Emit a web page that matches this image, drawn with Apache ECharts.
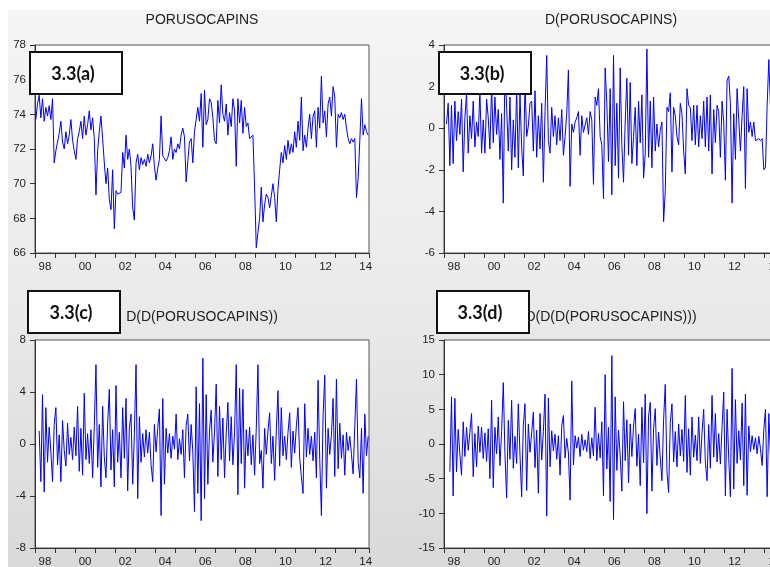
<!DOCTYPE html>
<html><head><meta charset="utf-8">
<script src="https://cdn.jsdelivr.net/npm/echarts@6/dist/echarts.min.js"></script>
<style>html,body{margin:0;padding:0;background:#fff;}#c{width:770px;height:567px;}</style>
</head><body><div id="c"></div>
<script>
// x-axis year labels (every two years), monthly data 1998M01..2014M08
const yearLabels = ['98','00','02','04','06','08','10','12','14'];
const titles = ['PORUSOCAPINS','D(PORUSOCAPINS)','D(D(PORUSOCAPINS))','D(D(D(PORUSOCAPINS)))'];
const boxLabels = ['3.3(a)','3.3(b)','3.3(c)','3.3(d)'];
const yMin = [66, -6, -8, -15];
const yMax = [78, 4, 8, 15];
const yStep = [2, 2, 4, 5];

// PORUSOCAPINS level, from 1998M01
const level = [
73.7,74.6,75.1,73.8,74.9,73.6,74.4,73.9,74.5,73.7,74.9,71.2,
71.9,72.0,72.9,73.6,72.4,72.0,73.0,72.3,72.8,73.7,72.5,71.9,
71.4,72.6,73.0,73.6,72.6,73.9,72.8,73.4,74.2,73.1,73.8,72.6,
69.35,71.9,73.0,73.9,72.6,71.2,70.0,70.9,69.1,68.5,70.8,67.4,
69.6,69.4,69.3,69.5,71.8,70.9,72.8,71.4,72.0,71.0,68.6,67.9,
71.2,71.7,70.8,71.5,71.1,71.4,71.0,71.7,71.2,71.6,72.3,71.0,
70.2,70.9,71.4,73.9,71.6,71.5,71.3,71.5,71.9,72.7,71.4,72.0,
71.8,72.3,72.0,72.8,73.2,72.7,70.1,71.3,72.4,72.6,71.2,73.0,
73.0,74.4,73.6,75.2,72.1,75.4,73.4,73.7,74.9,74.7,73.8,72.5,
72.3,74.8,73.5,75.7,74.0,73.6,74.6,72.8,74.1,73.3,74.9,74.2,
71.0,74.9,73.5,74.8,72.9,74.4,73.3,73.5,72.6,72.5,72.8,69.8,
66.3,67.2,68.0,69.8,67.8,68.8,69.4,69.2,68.6,69.3,70.0,69.2,
67.8,69.7,70.8,71.8,71.2,72.2,71.4,72.5,71.7,72.3,71.8,73.0,
72.1,73.6,72.5,75.0,71.9,72.8,72.1,73.2,74.0,72.6,73.9,74.2,
72.1,74.4,73.2,76.2,73.5,74.2,72.7,74.6,75.0,73.9,75.6,75.0,
72.1,74.0,73.8,74.1,73.7,74.0,73.2,72.6,72.3,72.6,72.4,72.6,
69.2,70.3,72.5,74.9,72.8,73.4,73.0,72.8
];

// D(PORUSOCAPINS), from 1998M02
const diff1 = [
0.2,1.2,-1.8,1.1,-1.7,1.3,-0.6,0.8,-0.3,1.4,-2.1,
0.5,1.7,-1.2,0.6,-0.5,1.3,-0.9,0.3,-0.4,1.8,-1.2,0.4,
-1.2,1.4,0.5,-1.0,2.1,-0.7,1.5,-0.3,0.9,-1.5,0.7,-3.6,
2.9,1.0,-1.1,1.5,-2.0,0.4,-1.4,1.9,-1.9,1.6,-0.9,-2.3,
2.2,-0.4,0.1,1.2,1.3,-1.1,1.8,-1.4,0.6,-1.0,1.2,-2.6,
0.8,3.5,-0.6,-1.2,1.0,-0.4,0.6,-0.8,0.5,-0.6,0.9,-1.3,
-0.4,0.7,2.8,-2.8,0.2,-0.2,0.3,0.5,0.8,-1.3,0.6,-0.2,
-0.2,0.5,-0.3,0.8,0.4,-2.7,1.5,1.1,1.9,-0.4,-0.8,-3.4,
2.9,1.2,-1.6,1.9,-3.2,3.5,-1.8,1.2,-2.4,2.9,-0.8,-2.6,
0.3,2.4,-1.3,2.2,-1.7,-0.4,1.0,-1.8,1.3,-0.7,1.6,-2.4,
-1.2,3.8,-1.4,1.3,-1.9,1.5,-1.1,0.2,-0.9,-0.1,0.3,-4.5,
-3.0,1.0,0.8,1.7,-2.1,1.0,0.6,-0.4,-0.8,1.2,0.7,-1.1,
-2.2,1.9,1.1,1.0,-0.6,1.1,-0.8,1.1,-0.9,0.6,-0.5,1.3,
-0.9,1.5,-1.1,1.6,-2.2,0.9,-0.7,1.1,0.8,-1.4,1.3,0.3,
-2.5,2.3,2.5,1.2,-3.6,0.7,-1.5,1.9,0.4,-1.1,0.6,2.0,
-2.9,1.9,-0.2,0.3,-0.4,0.3,-0.6,-0.6,-0.5,-0.6,-0.5,-2.0,
-1.9,1.1,3.3,1.0,-1.8,0.6,-0.4,-0.2
];

// D(D(PORUSOCAPINS)), from 1998M03
const diff2 = [
1.0,-2.9,3.8,-3.7,2.8,-1.4,1.3,-0.6,-2.9,1.5,
2.8,-1.6,0.7,-2.9,1.8,-0.5,-1.7,1.6,-0.8,0.5,-1.2,1.3,
-0.9,2.9,-2.1,1.2,-2.4,3.9,-1.2,0.8,-1.5,1.1,-2.6,1.4,
6.1,-1.8,1.5,-3.3,2.9,-1.0,-2.6,1.6,4.2,-2.0,1.1,-3.3,
4.5,-1.4,0.9,-2.6,2.8,-1.1,3.5,-3.6,1.2,2.3,-3.1,0.8,
6.1,-4.2,2.1,-1.4,0.8,-1.0,1.1,-0.7,0.9,-1.6,-2.9,1.5,
-0.6,1.2,2.7,-5.5,3.5,-3.1,1.2,-0.7,0.8,-1.1,0.6,-0.4,
2.3,-1.2,0.4,-0.8,1.1,-2.6,1.4,2.3,-1.3,1.5,-0.6,-5.2,
4.4,-3.8,3.1,-5.9,6.6,-4.2,3.8,-3.1,1.0,2.6,-1.4,0.9,
4.6,-2.5,2.9,-1.2,2.0,-2.6,0.8,3.2,-1.3,2.1,-1.6,0.9,
6.1,-3.9,4.3,-1.5,4.2,-3.4,1.1,-0.9,1.3,-1.6,0.7,-2.4,
1.2,6.1,-1.5,-0.5,-3.4,1.2,-0.8,1.0,2.4,-1.5,0.6,-2.8,
1.1,4.1,-1.7,2.8,-0.9,0.6,-1.2,0.9,2.4,-1.8,1.0,-0.7,
1.4,2.8,-1.1,-2.5,-3.8,3.1,-1.0,1.2,-0.8,0.6,-1.3,0.9,
-2.6,4.9,-1.2,-5.5,2.2,5.3,-3.4,1.2,-0.8,0.7,3.5,-2.5,
5.0,-1.9,1.6,-1.1,0.7,-2.4,0.9,-0.5,0.6,-0.8,-2.3,1.4,
5.0,-1.4,-2.6,1.2,-3.8,2.3,-0.9,0.6
];

// D(D(D(PORUSOCAPINS))), from 1998M04
const diff3 = [
-4.0,6.8,-7.5,6.6,-4.0,2.1,-1.5,-4.5,3.2,-1.8,
2.4,-0.9,1.7,4.4,-4.7,1.5,-3.3,2.6,-1.2,2.4,
-2.1,1.6,-2.5,2.2,-5.0,6.3,-6.3,2.4,-1.4,3.9,
-3.1,1.8,8.85,-1.5,-7.8,3.4,-2.2,6.3,-3.5,1.1,
-2.8,5.8,-1.6,-7.6,2.7,5.8,-6.7,2.9,-1.2,1.6,
4.6,-3.4,2.0,-7.1,4.4,-2.3,1.8,7.2,-10.4,6.6,
-3.3,1.9,-1.0,1.4,-2.2,1.2,-4.5,2.6,4.1,-2.0,
0.8,-1.3,-8.1,9.1,-3.0,1.2,-0.6,1.0,-1.8,1.4,
-0.9,0.6,-1.1,1.8,-2.1,0.9,-1.7,5.3,-2.4,1.5,
-2.0,3.2,-7.5,10.0,-3.6,2.4,-8.3,12.75,-10.9,6.8,
-3.8,2.0,-1.6,-6.8,6.1,-2.4,3.5,-5.6,2.9,-1.8,
2.6,5.1,-3.2,1.4,-6.0,5.3,-2.7,7.2,-10.05,4.0,
6.0,-6.8,2.2,5.1,-3.1,1.7,-2.0,-5.3,3.5,8.6,
-4.0,-7.0,3.1,5.8,-2.6,1.8,-3.3,2.9,-1.7,2.1,
-2.5,7.0,-4.1,2.2,-4.5,3.9,-1.9,1.3,-2.4,3.9,
-2.8,1.6,5.0,-2.6,-5.3,2.8,-3.5,7.0,-1.9,4.4,
-2.6,1.5,-2.9,2.4,7.5,-7.5,5.0,-2.1,-7.6,10.9,
-6.5,6.4,-2.8,1.9,-2.3,5.9,-6.0,7.2,-7.4,2.6,
-1.1,1.2,-0.8,0.9,-1.4,1.1,-0.7,-3.1,2.1,5.0,
-7.6,4.4,-1.8,2.6,-3.9,3.2,-1.5
];

const seriesData = [level, diff1, diff2, diff3];
const startOffsets = [0, 1, 2, 3];
const nMonths = 200;

// layout (pixels)
const panels = [
  {left: 35,  top: 45,  titleY: 20,  box: [30, 52]},
  {left: 444, top: 45,  titleY: 20,  box: [439, 52]},
  {left: 35,  top: 340, titleY: 317, box: [28, 291]},
  {left: 444, top: 340, titleY: 317, box: [437, 291]}
];
const PW = 334, PH = 208;
const FONT = '"Liberation Sans", Arial, sans-serif';

const grids = [], xAxes = [], yAxes = [], series = [];
const graphics = [
  {type: 'rect', shape: {x: 8, y: 10, width: 762, height: 557}, z: -100,
   style: {fill: {type: 'linear', x: 0, y: 0, x2: 0, y2: 1,
     colorStops: [{offset: 0, color: '#f5f5f5'}, {offset: 0.5, color: '#ebebeb'}, {offset: 1, color: '#d9d9d9'}]}}}
];

panels.forEach((p, k) => {
  grids.push({left: p.left, top: p.top, width: PW, height: PH, show: true,
    outerBoundsMode: 'none', containLabel: false,
    backgroundColor: '#ffffff', borderColor: '#555', borderWidth: 1});
  xAxes.push({type: 'value', gridIndex: k, min: 0, max: nMonths, interval: 12, position: 'bottom',
    axisLine: {show: true, onZero: false, lineStyle: {color: '#333', width: 1}},
    axisTick: {show: true, inside: false, length: 5, lineStyle: {color: '#333'}},
    axisLabel: {show: false}, splitLine: {show: false}});
  xAxes.push({type: 'value', gridIndex: k, min: 0, max: nMonths, interval: 6, position: 'bottom',
    axisLine: {show: false, onZero: false}, axisTick: {show: false}, splitLine: {show: false},
    axisLabel: {show: true, margin: 8, color: '#222', fontSize: 11.5, fontFamily: FONT,
      showMinLabel: true, showMaxLabel: true,
      formatter: function (v) {
        const q = (v - 6) / 24;
        return (Number.isInteger(q) && q >= 0 && q < yearLabels.length) ? yearLabels[q] : '';
      }}});
  yAxes.push({type: 'value', gridIndex: k, min: yMin[k], max: yMax[k], interval: yStep[k],
    axisLine: {show: true, onZero: false, lineStyle: {color: '#333', width: 1}},
    axisTick: {show: true, inside: false, length: 5, lineStyle: {color: '#333'}},
    axisLabel: {show: true, margin: 9, color: '#222', fontSize: 11.5, fontFamily: FONT},
    splitLine: {show: false}});
  const arr = seriesData[k];
  series.push({type: 'line', xAxisIndex: 2 * k, yAxisIndex: k, symbol: 'none', showSymbol: false,
    silent: true, animation: false, clip: true,
    lineStyle: {color: '#0000ff', width: 1},
    data: arr.map((v, j) => [startOffsets[k] + j + 0.5, v])});
  // title centred on plot
  graphics.push({type: 'text', x: p.left + PW / 2, y: p.titleY, z: 50,
    style: {text: titles[k], font: '14px ' + FONT, fill: '#222',
      align: 'center', verticalAlign: 'middle', textAlign: 'center', textVerticalAlign: 'middle'}});
  // label box
  graphics.push({type: 'rect', shape: {x: p.box[0], y: p.box[1], width: 92, height: 42}, z: 100,
    style: {fill: '#ffffff', stroke: '#111', lineWidth: 2}});
  graphics.push({type: 'text', x: p.box[0] + 43, y: p.box[1] + 22, z: 101,
    style: {text: boxLabels[k], font: 'bold 18px Lato, "Open Sans", sans-serif', fill: '#111',
      align: 'center', verticalAlign: 'middle', textAlign: 'center', textVerticalAlign: 'middle'}});
});

const chart = echarts.init(document.getElementById('c'), null, {renderer: 'canvas'});
chart.setOption({
  backgroundColor: '#ffffff',
  animation: false,
  grid: grids, xAxis: xAxes, yAxis: yAxes, series: series,
  graphic: {elements: graphics}
});
</script>
</body></html>
